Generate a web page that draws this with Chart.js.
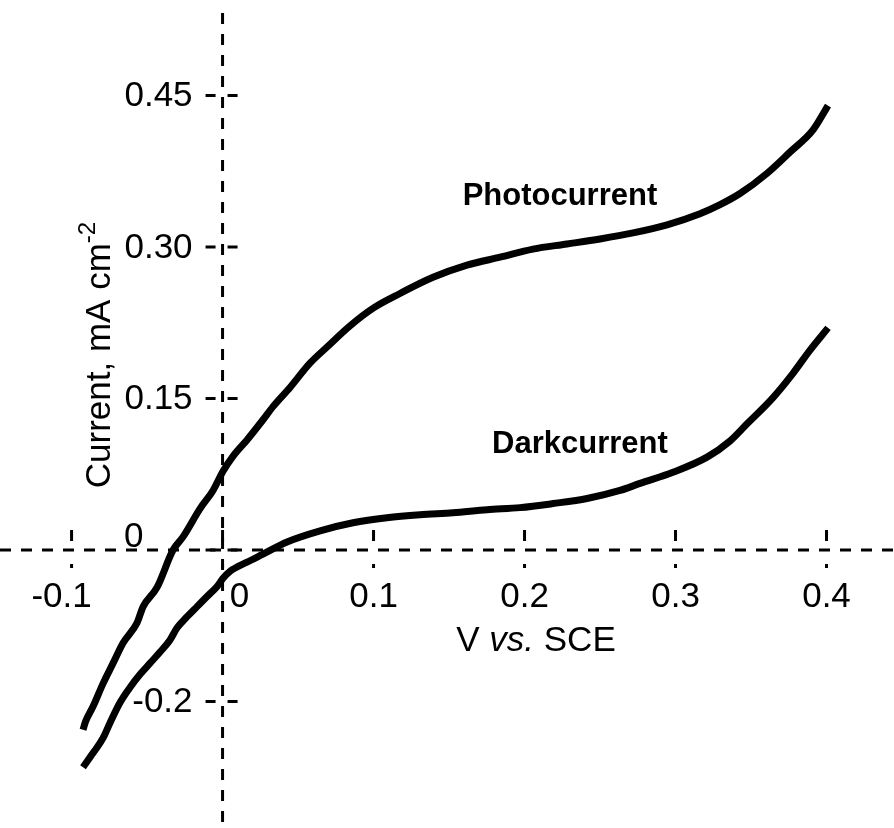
<!DOCTYPE html>
<html>
<head>
<meta charset="utf-8">
<script src="https://cdn.jsdelivr.net/npm/chart.js@4"></script>
<style>
    body { margin: 0; background: #fff; }
    #wrap { width: 894px; height: 828px; position: relative; }
</style>
</head>
<body>
<div id="wrap"><canvas id="chart_iv"></canvas></div>
<script>
// potential (V vs. SCE) and current (mA cm-2)
const photoV = [-0.0924, -0.0908, -0.0858, -0.0791, -0.0725, -0.0659, -0.0566, -0.0526, -0.0434, -0.0328, -0.0262,
    -0.0149, -0.0063, 0.0003, 0.0070, 0.0162, 0.0268, 0.0334, 0.0447, 0.0579, 0.0692,
    0.0844, 0.1003, 0.1175, 0.1394, 0.1619, 0.1838, 0.2056, 0.2281, 0.2500, 0.2719,
    0.2944, 0.3162, 0.3295, 0.3427, 0.3606, 0.3758, 0.3911, 0.4010]
const photoI = [-0.178, -0.170, -0.155, -0.132, -0.112, -0.092, -0.072, -0.056, -0.037, 0.000, 0.013,
    0.041, 0.059, 0.078, 0.093, 0.109, 0.129, 0.142, 0.161, 0.185, 0.201,
    0.222, 0.240, 0.254, 0.270, 0.282, 0.290, 0.298, 0.303, 0.308, 0.314,
    0.322, 0.333, 0.342, 0.353, 0.373, 0.394, 0.416, 0.440]

const darkV = [-0.0924, -0.0858, -0.0791, -0.0745, -0.0679, -0.0613, -0.0546, -0.0480, -0.0414, -0.0348,
    -0.0301, -0.0235, -0.0169, -0.0103, -0.0036, 0.0003, 0.0050, 0.0162, 0.0268, 0.0427,
    0.0646, 0.0864, 0.1089, 0.1308, 0.1526, 0.1752, 0.1970, 0.2189, 0.2414, 0.2632,
    0.2765, 0.2983, 0.3209, 0.3361, 0.3474, 0.3646, 0.3778, 0.3891, 0.4010]
const darkI = [-0.215, -0.201, -0.186, -0.171, -0.151, -0.136, -0.123, -0.112, -0.101, -0.089,
    -0.077, -0.066, -0.056, -0.046, -0.036, -0.028, -0.021, -0.012, -0.004, 0.008,
    0.019, 0.027, 0.032, 0.035, 0.037, 0.040, 0.042, 0.046, 0.051, 0.059,
    0.066, 0.077, 0.092, 0.108, 0.125, 0.151, 0.175, 0.198, 0.220]

const xTicks = [-0.1, 0, 0.1, 0.2, 0.3, 0.4]
const xTickLabels = ['-0.1', '0', '0.1', '0.2', '0.3', '0.4']
const yTicks = [-0.15, 0, 0.15, 0.30, 0.45]
const yTickLabels = ['-0.2', '0', '0.15', '0.30', '0.45']

const curveNames = ['Photocurrent', 'Darkcurrent']
const curveLabelAt = [[0.159, 0.342], [0.1785, 0.096]]   // [V, I] of label's left baseline

const FONT = '"Liberation Sans", Arial, Helvetica, sans-serif'

const toPoints = (xs, ys) => xs.map((x, i) => ({ x: x, y: ys[i] }))

// crossing axes, dashed, drawn under the curves
const crossAxes = {
    id: 'crossAxes',
    beforeDatasetsDraw(chart) {
        const ctx = chart.ctx
        const sx = chart.scales.x
        const sy = chart.scales.y
        const ax = sx.getPixelForValue(0)
        const ay = sy.getPixelForValue(0)

        ctx.save()
        ctx.strokeStyle = '#000'
        ctx.lineWidth = 3
        ctx.setLineDash([11, 10])
        ctx.beginPath()
        ctx.moveTo(ax, 13)
        ctx.lineTo(ax, chart.height)
        ctx.moveTo(0, ay)
        ctx.lineTo(chart.width, ay)
        ctx.stroke()
        ctx.setLineDash([])

        // tick marks
        ctx.beginPath()
        yTicks.forEach(v => {
            const py = sy.getPixelForValue(v)
            ctx.moveTo(ax - 17, py); ctx.lineTo(ax - 7, py)
            ctx.moveTo(ax + 5, py); ctx.lineTo(ax + 15, py)
        })
        xTicks.forEach(v => {
            const px = sx.getPixelForValue(v)
            ctx.moveTo(px, ay - 20); ctx.lineTo(px, ay - 9)
            ctx.moveTo(px, ay + 14); ctx.lineTo(px, ay + 18)
        })
        ctx.stroke()

        // tick labels
        ctx.fillStyle = '#000'
        ctx.font = '35px ' + FONT
        ctx.textBaseline = 'middle'
        ctx.textAlign = 'right'
        yTicks.forEach((v, i) => {
            const py = sy.getPixelForValue(v)
            if (v === 0)
                ctx.fillText(yTickLabels[i], ax - 79, py - 13)
            else
                ctx.fillText(yTickLabels[i], ax - 30, py + 1)
        })
        ctx.textAlign = 'center'
        xTicks.forEach((v, i) => {
            let px = sx.getPixelForValue(v)
            if (v === 0) px += 17
            if (v < 0) px -= 10
            ctx.fillText(xTickLabels[i], px, ay + 47)
        })

        // x title: V vs. SCE
        const parts = [['V ', ''], ['vs.', 'italic '], [' SCE', '']]
        let w = 0
        parts.forEach(p => { ctx.font = p[1] + '35px ' + FONT; w += ctx.measureText(p[0]).width })
        let tx = 536 - w / 2
        ctx.textAlign = 'left'
        parts.forEach(p => {
            ctx.font = p[1] + '35px ' + FONT
            ctx.fillText(p[0], tx, ay + 91)
            tx += ctx.measureText(p[0]).width
        })

        // y title: Current, mA cm-2
        ctx.save()
        ctx.translate(110, 355)
        ctx.rotate(-Math.PI / 2)
        ctx.textBaseline = 'alphabetic'
        ctx.font = '35px ' + FONT
        const main = 'Current, mA cm'
        const mw = ctx.measureText(main).width
        ctx.font = '24px ' + FONT
        const sw = ctx.measureText('-2').width
        let yx = -(mw + sw) / 2
        ctx.font = '35px ' + FONT
        ctx.fillText(main, yx, 0)
        ctx.font = '24px ' + FONT
        ctx.fillText('-2', yx + mw, -15)
        ctx.restore()

        // curve labels
        ctx.font = 'bold 31px ' + FONT
        ctx.textBaseline = 'alphabetic'
        ctx.textAlign = 'left'
        curveNames.forEach((name, i) => {
            ctx.fillText(name, sx.getPixelForValue(curveLabelAt[i][0]), sy.getPixelForValue(curveLabelAt[i][1]))
        })
        ctx.restore()
    }
}

const ctx = document.getElementById('chart_iv').getContext('2d');
const ivChart = new Chart(ctx, {
    type: 'line',
    data: {
        datasets: [{
            label: curveNames[0],
            data: toPoints(photoV, photoI),
            borderColor: '#000',
            borderWidth: 7,
            pointRadius: 0,
            cubicInterpolationMode: 'monotone',
            clip: false
        }, {
            label: curveNames[1],
            data: toPoints(darkV, darkI),
            borderColor: '#000',
            borderWidth: 7,
            pointRadius: 0,
            cubicInterpolationMode: 'monotone',
            clip: false
        }]
    },
    options: {
        responsive: true,
        maintainAspectRatio: false,
        animation: false,
        layout: { padding: 0 },
        plugins: {
            legend: { display: false },
            tooltip: { enabled: false }
        },
        scales: {
            x: { type: 'linear', display: false, min: -0.1474, max: 0.4447 },
            y: { type: 'linear', display: false, min: -0.2752, max: 0.5446 }
        }
    },
    plugins: [crossAxes]
});
</script>
</body>
</html>
